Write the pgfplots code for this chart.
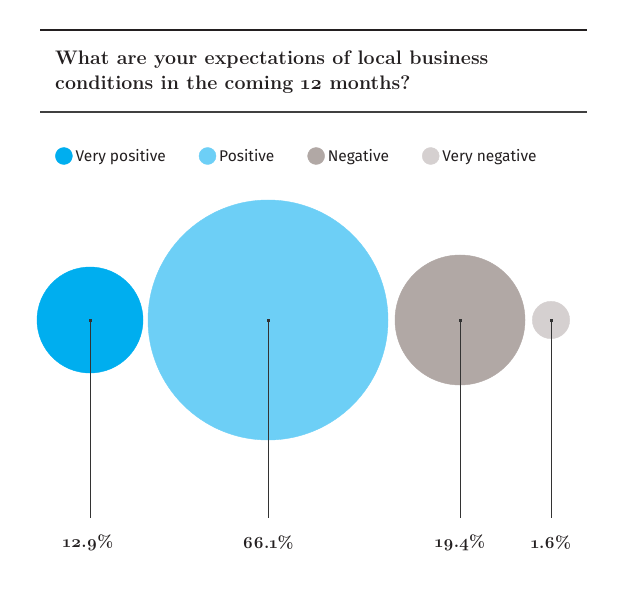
\documentclass[border=0pt]{standalone}
\usepackage{pgfplots}
\pgfplotsset{compat=1.18}
\usepackage{pgfplotstable}
\usepackage{fontspec}
\setmainfont{Latin Modern Roman}[Numbers=OldStyle]
\newfontfamily\legfont{Fira Sans}

\definecolor{cVpos}{HTML}{00AEEF}
\definecolor{cPos}{HTML}{6DCFF6}
\definecolor{cNeg}{HTML}{B1A8A5}
\definecolor{cVneg}{HTML}{D5D0D0}
\definecolor{stemcol}{HTML}{333333}
\definecolor{txt}{HTML}{231F20}

% one table per answer: x position, value (%)
\pgfplotstableread{
x y v
90 286 12.9
}\vpostab
\pgfplotstableread{
x y v
268 286 66.1
}\postab
\pgfplotstableread{
x y v
460 286 19.4
}\negtab
\pgfplotstableread{
x y v
551 286 1.6
}\vnegtab

% bubble area proportional to value
\pgfplotsset{
  bubble/.style={
    only marks, mark=*, scatter,
    mark options={draw=#1, fill=#1},
    scatter/use mapped color={draw=#1, fill=#1},
    visualization depends on={sqrt(\thisrow{v})*14.76 \as \r},
    scatter/@pre marker code/.append style={/tikz/mark size=\r},
    legend image code/.code={\fill[#1] (0pt,0pt) circle (8.5pt);},
  },
  vline/.style={stemcol, line width=0.8pt, forget plot,
    mark=square*, mark size=1pt, mark indices={1},
    mark options={draw=stemcol, fill=stemcol}},
}

\begin{document}
\begin{tikzpicture}
\begin{axis}[
    x=1pt, y=1pt,
    xmin=0, xmax=620, ymin=0, ymax=606,
    axis line style={draw=none},
    ticks=none,
    clip=false,
    clip mode=individual,
    legend columns=4,
    legend style={
        at={(axis cs:52,450)}, anchor=west,
        draw=none, fill=none,
        font=\legfont\fontsize{15.5}{17}\selectfont,
        text=txt,
        /tikz/every even column/.append style={column sep=31pt},
        /tikz/every odd column/.append style={column sep=1pt},
        cells={anchor=west},
    },
]
% rules and title
\draw[line width=2.6pt, txt] (axis cs:40,576) -- (axis cs:587,576);
\draw[line width=1.6pt, black!75] (axis cs:40,494) -- (axis cs:587,494);
\node[anchor=west, font=\bfseries\fontsize{19.6}{25}\selectfont, align=left, text=txt, inner sep=0pt]
    at (axis cs:55,533.5) {What are your expectations of local business\\conditions in the coming 12 months?};

\addplot[bubble=cVpos] table[x=x, y=y] {\vpostab};
\addlegendentry{Very positive}
\addplot[bubble=cPos] table[x=x, y=y] {\postab};
\addlegendentry{Positive}
\addplot[bubble=cNeg] table[x=x, y=y] {\negtab};
\addlegendentry{Negative}
\addplot[bubble=cVneg] table[x=x, y=y] {\vnegtab};
\addlegendentry{Very negative}

% stems from bubble centre down to the value
\addplot[vline] coordinates {(90,286)(90,88)};
\addplot[vline] coordinates {(268,286)(268,88)};
\addplot[vline] coordinates {(460,286)(460,88)};
\addplot[vline] coordinates {(551,286)(551,88)};

% value labels
\node[font=\bfseries\fontsize{17}{19}\selectfont, text=txt] at (axis cs:88,63) {12.9\%};
\node[font=\bfseries\fontsize{17}{19}\selectfont, text=txt] at (axis cs:268,63) {66.1\%};
\node[font=\bfseries\fontsize{17}{19}\selectfont, text=txt] at (axis cs:460,63) {19.4\%};
\node[font=\bfseries\fontsize{17}{19}\selectfont, text=txt] at (axis cs:551,63) {1.6\%};
\end{axis}
\end{tikzpicture}
\end{document}
